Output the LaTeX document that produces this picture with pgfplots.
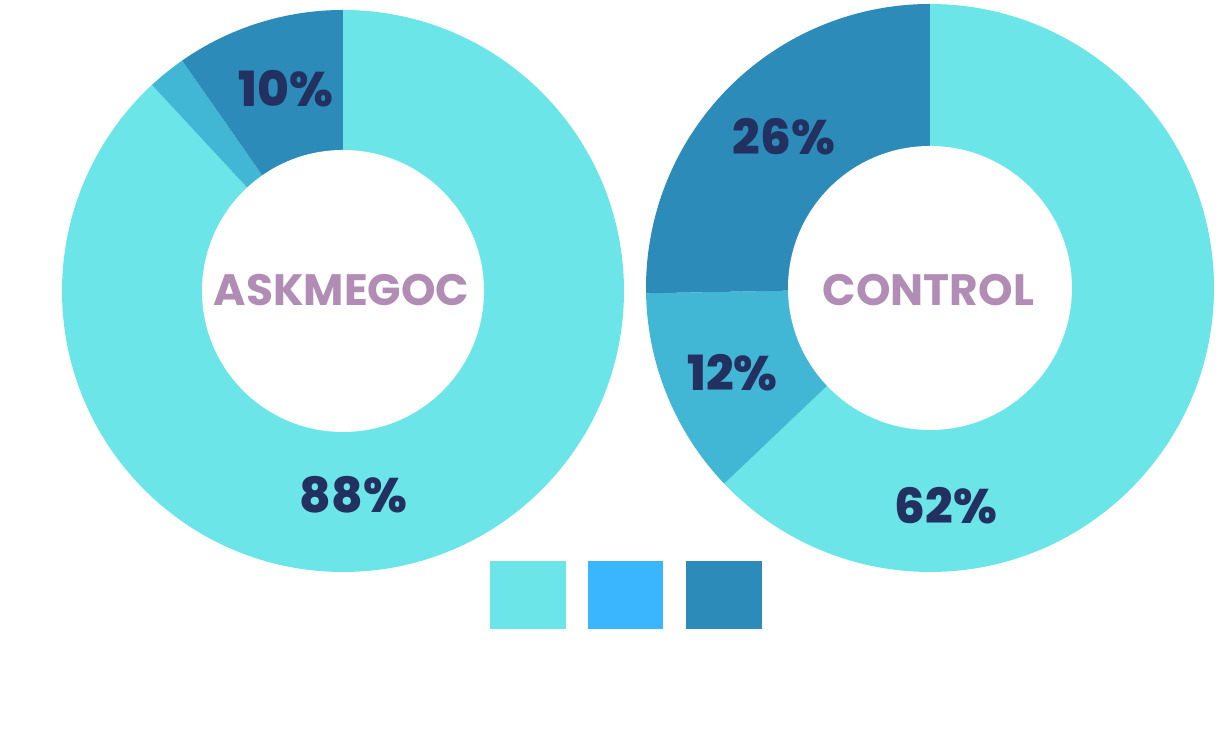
\documentclass[border=0pt]{standalone}
\usepackage{pgfplots}
\usepackage{pgfplotstable}
\pgfplotsset{compat=1.18}
\usepackage{fontspec}
\setmainfont{Poppins}
\newfontfamily\numfont{Poppins ExtraBold}
\definecolor{sliceA}{HTML}{6CE5E8}
\definecolor{sliceB}{HTML}{42B7D5}
\definecolor{sliceC}{HTML}{2D8BBA}
\definecolor{legB}{HTML}{3AB6FF}
\definecolor{navy}{HTML}{233160}
\definecolor{mauve}{HTML}{B18DB6}

% shares in percent (as drawn), clockwise from 12 o'clock
\pgfplotstableread{
share color
88.1 sliceA
2.2 sliceB
9.7 sliceC
}\askdata
\pgfplotstableread{
share color
62.9 sliceA
11.8 sliceB
25.3 sliceC
}\ctrldata

% #1 table, #2 cx, #3 cy (axis units), #4 outer radius, #5 inner radius
\newcommand\donut[5]{%
  \pgfplotstablegetrowsof{#1}\pgfmathtruncatemacro\nr{\pgfplotsretval-1}%
  \def\angA{90}%
  \pgfplotsforeachungrouped \r in {0,...,\nr}{%
    \pgfplotstablegetelem{\r}{share}\of{#1}\let\val\pgfplotsretval
    \pgfplotstablegetelem{\r}{color}\of{#1}\let\col\pgfplotsretval
    \pgfmathsetmacro\angB{\angA-3.6*\val}%
    \edef\doit{\noexpand\fill[\col] (axis cs:#2,#3) -- ++(\angA:#4) arc[start angle=\angA,end angle=\angB,radius=#4] -- cycle;}%
    \doit
    \let\angA\angB
  }%
  \edef\doit{\noexpand\fill[white] (axis cs:#2,#3) circle[radius=#5];}\doit
}

\begin{document}
\begin{tikzpicture}
\begin{axis}[
  scale only axis, width=12.23cm, height=7.31cm,
  xmin=0, xmax=1223, ymin=0, ymax=731,
  hide axis, clip=false,
]
\path (axis cs:0,0) rectangle (axis cs:1223,731);
\donut{\askdata}{343}{440}{2.81cm}{1.41cm}
\donut{\ctrldata}{930}{443}{2.84cm}{1.42cm}

\begin{scope}[every node/.style={text=navy, font=\numfont\fontsize{13.8}{17}\selectfont, inner sep=0pt}]
\node at (axis cs:286,642.5) {10\%};
\node at (axis cs:353.5,236.5) {88\%};
\node at (axis cs:784,594) {26\%};
\node at (axis cs:732.5,358) {12\%};
\node at (axis cs:946,225.5) {62\%};
\end{scope}
\begin{scope}[every node/.style={text=mauve, font=\bfseries\fontsize{12.5}{15}\selectfont, inner sep=0pt}]
\node at (axis cs:341.5,441) {ASKMEGOC};
\node at (axis cs:928.5,441) {CONTROL};
\end{scope}

% legend swatches (labels are blank in the reference)
\fill[sliceA] (axis cs:490,102) rectangle (axis cs:566,170);
\fill[legB] (axis cs:588,102) rectangle (axis cs:663,170);
\fill[sliceC] (axis cs:686,102) rectangle (axis cs:762,170);
\end{axis}
\end{tikzpicture}
\end{document}
